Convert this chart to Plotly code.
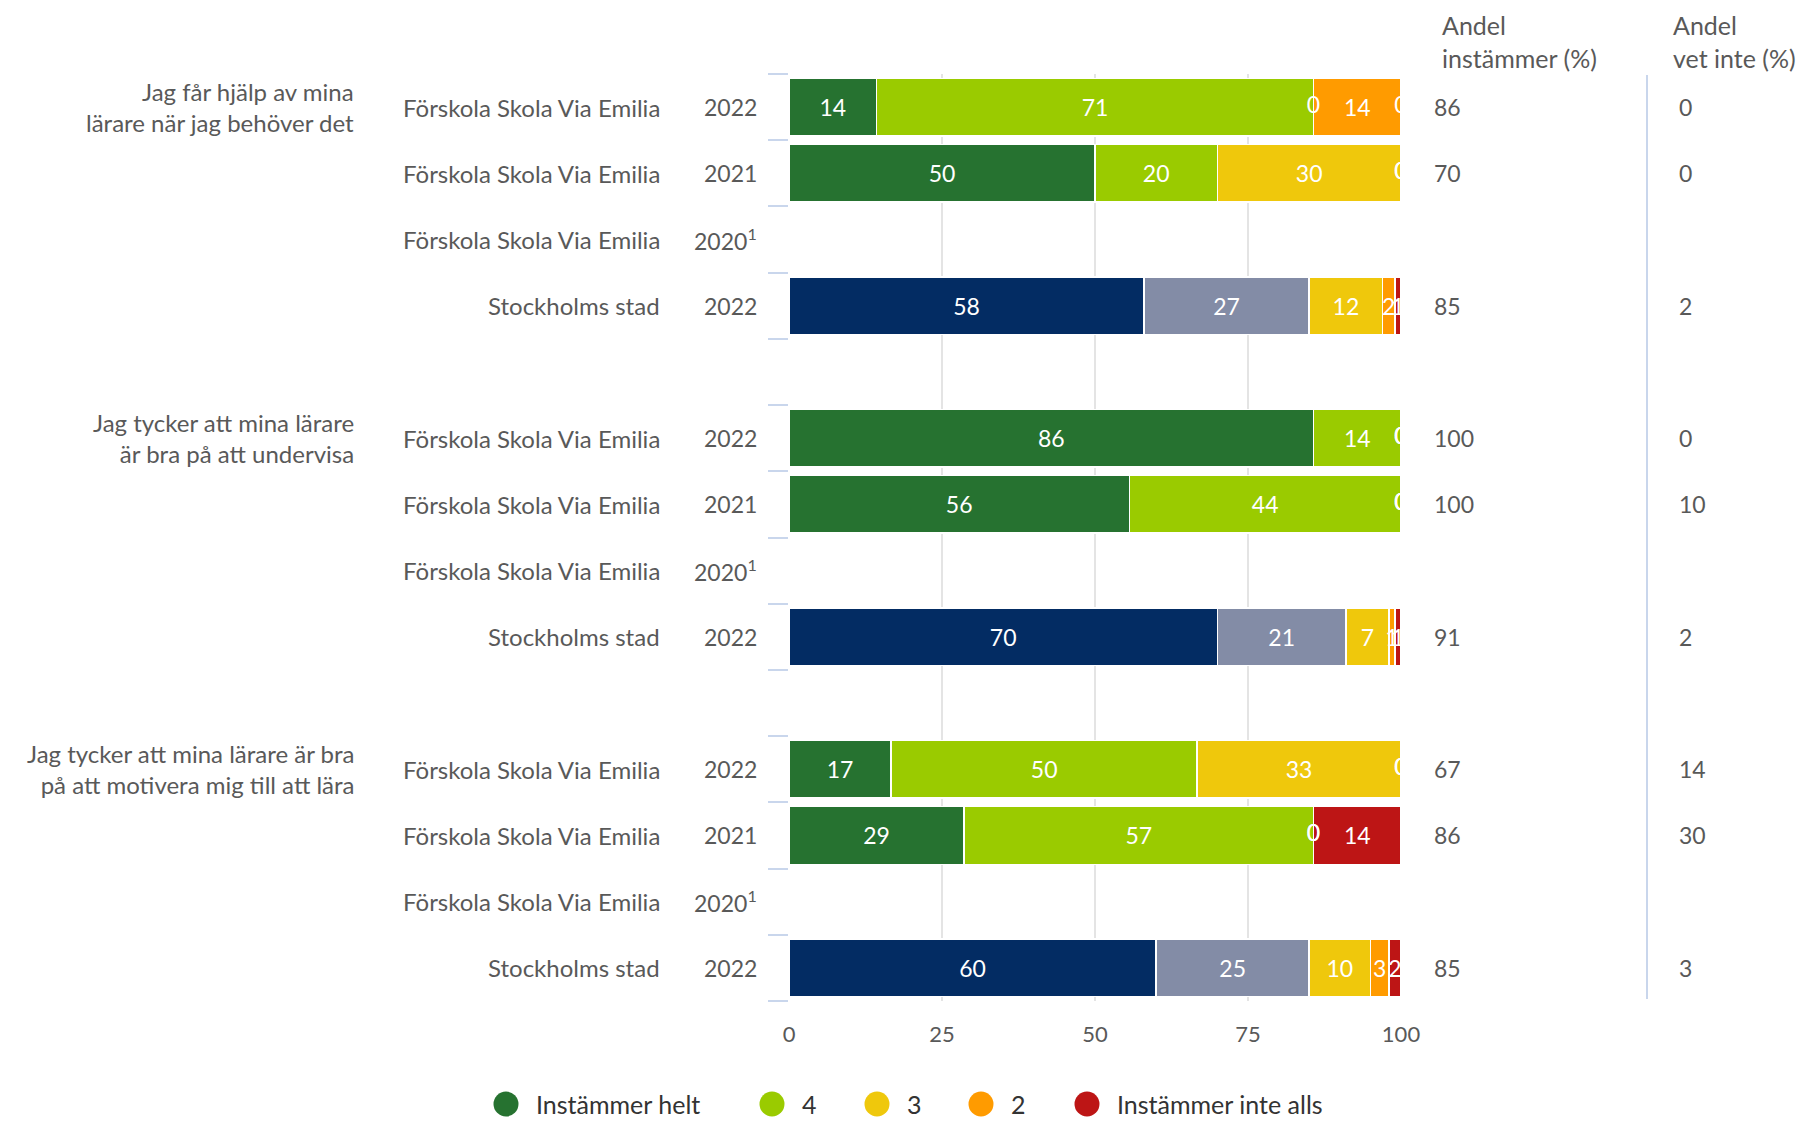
import plotly.graph_objects as go

# ---------------- data ----------------
questions = [
    "Jag får hjälp av mina<br>lärare när jag behöver det",
    "Jag tycker att mina lärare<br>är bra på att undervisa",
    "Jag tycker att mina lärare är bra<br>på att motivera mig till att lära",
]
units = ["Förskola Skola Via Emilia", "Förskola Skola Via Emilia",
         "Förskola Skola Via Emilia", "Stockholms stad"]
years = ["2022", "2021", "2020<sup>1</sup>", "2022"]

series_names = ["Instämmer helt", "4", "3", "2", "Instämmer inte alls"]
# 12 rows: 3 questions x 4 units (None = no data)
helt = [14.3, 50, None, 58, 85.7, 55.6, None, 70, 16.7, 28.6, None, 60]
s4 = [71.4, 20, None, 27, 14.3, 44.4, None, 21, 50, 57.1, None, 25]
s3 = [0, 30, None, 12, 0, 0, None, 7, 33.3, 0, None, 10]
s2 = [14.3, 0, None, 2, 0, 0, None, 1, 0, 0, None, 3]
s1 = [0, 0, None, 1, 0, 0, None, 1, 0, 14.3, None, 2]
andel_instammer = [86, 70, None, 85, 100, 100, None, 91, 67, 86, None, 85]
andel_vet_inte = [0, 0, None, 2, 0, 10, None, 2, 14, 30, None, 3]

x_ticks = [0, 25, 50, 75, 100]

# ---------------- styles ----------------
skola_colors = ["#267230", "#9acb00", "#efc80c", "#ff9b00", "#bd1515"]
stad_colors = ["#032c63", "#838ca6", "#efc80c", "#ff9b00", "#bd1515"]
FONT = "Lato, 'Open Sans', sans-serif"
TXT = "#595959"
FS = 23      # numbers
FSL = 24     # text labels

OFF = 8  # default page body margin
W, H = 1817 - OFF, 1122 - OFF
# plot area in screen pixels
SX0, SX1, SY0, SY1 = 789, 1401, 74, 1001
L = SX0 - OFF
R = W - (SX1 - OFF)
T = SY0 - OFF
B = H - (SY1 - OFF)
PW = SX1 - SX0
PH = SY1 - SY0


def px_x(p):
    return (p - SX0) / PW


def px_y(p):
    return (SY1 - p) / PH


n_per = len(units)
rows = len(helt)
slots = [(i // n_per) * (n_per + 1) + (i % n_per) for i in range(rows)]
n_slots = len(questions) * (n_per + 1) - 1

fig = go.Figure()
all_series = [helt, s4, s3, s2, s1]

for k, vals in enumerate(all_series):
    colors = [stad_colors[k] if units[i % n_per] == "Stockholms stad" else skola_colors[k]
              for i in range(rows)]
    texts = ["" if (v is None or v == 0) else f"{v:.0f}" for v in vals]
    fig.add_trace(go.Bar(
        x=vals, y=slots, orientation="h", width=0.87,
        marker=dict(color=colors, line=dict(color="white", width=1.5)),
        text=texts, textposition="inside", insidetextanchor="middle",
        constraintext="none", textangle=0,
        insidetextfont=dict(color="white", size=FS, family=FONT),
        showlegend=False, hoverinfo="skip", name=series_names[k],
    ))

# zero-value labels at segment boundaries (clipped by the plot area)
zx, zy = [], []
for i in range(rows):
    if helt[i] is None:
        continue
    cum = 0
    for vals in all_series:
        v = vals[i]
        if v == 0:
            zx.append(cum)
            zy.append(slots[i])
        cum += v
fig.add_trace(go.Scatter(
    x=zx, y=zy, mode="text", text=["0"] * len(zx),
    textfont=dict(color="white", size=FS, family=FONT),
    cliponaxis=True, showlegend=False, hoverinfo="skip",
))

ann = []
shapes = []
# question labels
for g, q in enumerate(questions):
    ann.append(dict(xref="paper", yref="y", x=px_x(356), y=g * (n_per + 1),
                    text=q, showarrow=False, xanchor="right", yanchor="middle",
                    align="right", font=dict(size=FSL, color=TXT, family=FONT)))
# unit / year labels and side values
for i in range(rows):
    r = i % n_per
    ann.append(dict(xref="paper", yref="y", x=px_x(662), y=slots[i],
                    text=units[r], showarrow=False, xanchor="right", yanchor="middle",
                    font=dict(size=FSL, color=TXT, family=FONT)))
    ann.append(dict(xref="paper", yref="y", x=px_x(759), y=slots[i],
                    text=years[r], showarrow=False, xanchor="right", yanchor="middle",
                    font=dict(size=FS, color=TXT, family=FONT)))
    if andel_instammer[i] is not None:
        ann.append(dict(xref="paper", yref="y", x=px_x(1432), y=slots[i],
                        text=str(andel_instammer[i]), showarrow=False, xanchor="left",
                        yanchor="middle", font=dict(size=FS, color=TXT, family=FONT)))
    if andel_vet_inte[i] is not None:
        ann.append(dict(xref="paper", yref="y", x=px_x(1677), y=slots[i],
                        text=str(andel_vet_inte[i]), showarrow=False, xanchor="left",
                        yanchor="middle", font=dict(size=FS, color=TXT, family=FONT)))
# column headers
ann.append(dict(xref="paper", yref="paper", x=px_x(1440), y=px_y(42),
                text="Andel<br>instämmer (%)", showarrow=False, xanchor="left",
                yanchor="middle", align="left", font=dict(size=25, color=TXT, family=FONT)))
ann.append(dict(xref="paper", yref="paper", x=px_x(1671), y=px_y(42),
                text="Andel<br>vet inte (%)", showarrow=False, xanchor="left",
                yanchor="middle", align="left", font=dict(size=25, color=TXT, family=FONT)))

# separator line between the two side columns
shapes.append(dict(type="line", xref="paper", yref="paper",
                   x0=px_x(1647), x1=px_x(1647), y0=px_y(999), y1=px_y(75),
                   line=dict(color="#c9d6ec", width=2)))

# legend (circles + labels), screen-pixel layout
legend_cx = [506, 772, 877, 981, 1087]
LEG_Y, LEG_R = 1104, 12.5
for k, name in enumerate(series_names):
    cx = legend_cx[k]
    shapes.append(dict(type="circle", xref="paper", yref="paper",
                       x0=px_x(cx - LEG_R), x1=px_x(cx + LEG_R),
                       y0=px_y(LEG_Y + LEG_R), y1=px_y(LEG_Y - LEG_R),
                       fillcolor=skola_colors[k], line=dict(width=0)))
    ann.append(dict(xref="paper", yref="paper", x=px_x(cx + 28), y=px_y(LEG_Y),
                    text=name, showarrow=False, xanchor="left", yanchor="middle",
                    font=dict(size=25, color="#333333", family=FONT)))

fig.update_layout(
    width=W, height=H,
    margin=dict(l=L, r=R, t=T, b=B, autoexpand=False),
    paper_bgcolor="white", plot_bgcolor="white",
    barmode="stack", showlegend=False,
    font=dict(family=FONT, size=FS, color=TXT),
    annotations=ann, shapes=shapes,
    xaxis=dict(range=[0, 100], tickvals=x_ticks, showgrid=True,
               gridcolor="#e4e4e4", gridwidth=2, zeroline=False, showline=False,
               ticks="", ticklabelstandoff=18,
               tickfont=dict(size=FS - 1, color=TXT, family=FONT), fixedrange=True),
    yaxis=dict(range=[n_slots - 0.5, -0.5],
               tickvals=[b - 0.5 for b in range(n_slots + 1)],
               showticklabels=False, ticks="outside", ticklen=20, tickwidth=2,
               tickcolor="#c9d6ec", showgrid=False, zeroline=False, showline=False,
               fixedrange=True),
)

fig.write_html("out.html")
